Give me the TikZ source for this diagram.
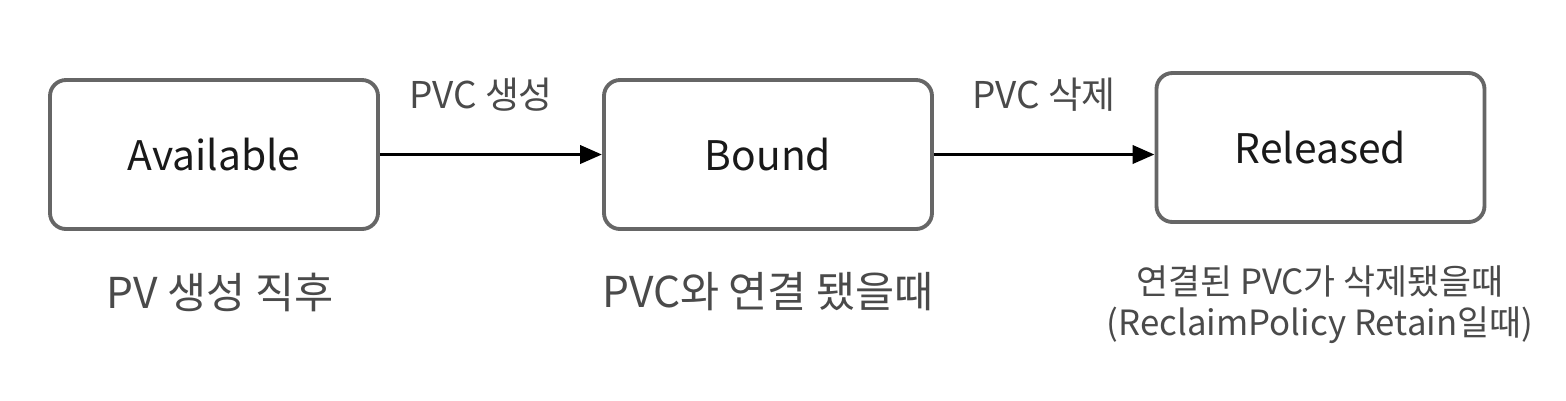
\documentclass[tikz,border=0pt]{standalone}
\usepackage{fontspec}
\setmainfont{Noto Sans CJK KR}
\usepackage{tikz}
\usetikzlibrary{arrows.meta}
\definecolor{boxline}{HTML}{666666}
\definecolor{notetext}{HTML}{4A4A4A}
\tikzset{
  state/.style={draw=boxline, line width=1.1pt, rounded corners=0.16cm, minimum width=3.28cm, minimum height=1.49cm, font=\fontsize{11.6}{14}\selectfont, text=black!90},
  note/.style={text=notetext, font=\fontsize{12.1}{15}\selectfont, align=center},
  edgelabel/.style={text=notetext, font=\fontsize{10.5}{13}\selectfont},
  trans/.style={line width=1.1pt, -{Triangle[length=0.22cm, width=0.18cm]}}
}
\begin{document}
\begin{tikzpicture}
  \useasboundingbox (0,0) rectangle (15.66,-4);
  \node (available) at (2.14,-1.545) [state] {Available};
  \node (bound) at (7.68,-1.545) [state] {Bound};
  \node (released) at (13.205,-1.475) [state] {Released};

  \draw[trans] (available.east) -- (bound.west);
  \draw[trans] (bound.east) -- (bound.east -| released.west);
  \node (create) at (4.81,-0.95) [edgelabel] {PVC 생성};
  \node (delete) at (10.44,-0.95) [edgelabel] {PVC 삭제};

  \node (availnote) at (2.20,-2.92) [note] {PV 생성 직후};
  \node (boundnote) at (7.68,-2.92) [note] {PVC와 연결 됐을때};
  \node (relnote) at (13.20,-3.05) [note, font=\fontsize{9.9}{11.6}\selectfont] {연결된 PVC가 삭제됐을때\\(ReclaimPolicy Retain일때)};
\end{tikzpicture}
\end{document}
